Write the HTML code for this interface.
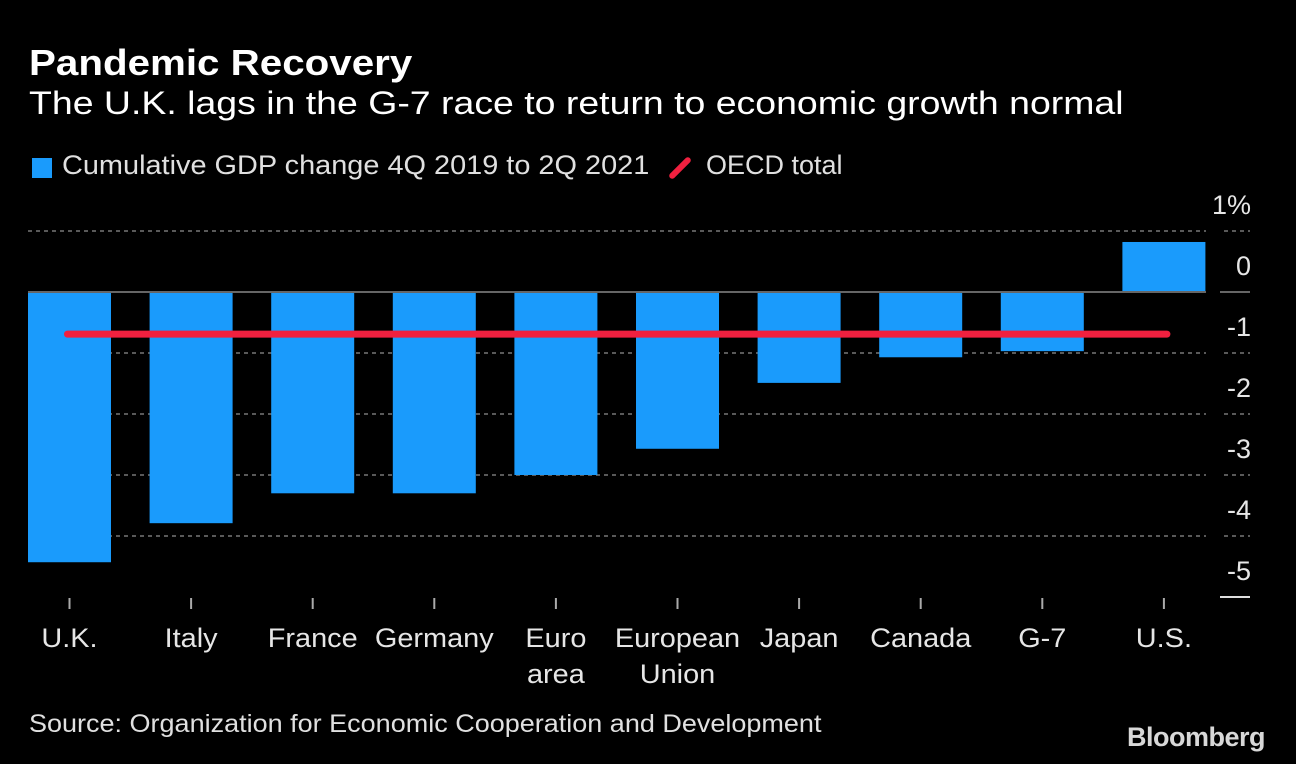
<!DOCTYPE html>
<html><head><meta charset="utf-8"><style>
html,body{margin:0;padding:0;background:#000;}
body{width:1296px;height:764px;overflow:hidden;position:relative;font-family:"Liberation Sans","DejaVu Sans",sans-serif;color:#e6e6e6;}
.t{position:absolute;white-space:nowrap;transform-origin:0 0;}
</style></head><body>
<div class="t" style="left:29px;top:42px;font-size:36px;font-weight:bold;color:#fff;transform:scaleX(1.12);">Pandemic Recovery</div>
<div class="t" style="left:29px;top:85px;font-size:32px;color:#fff;transform:scaleX(1.17);">The U.K. lags in the G-7 race to return to economic growth normal</div>
<div style="position:absolute;left:32px;top:150px;height:34px;">
  <div style="position:absolute;left:0;top:8px;width:20px;height:20px;background:#1a9bfc;"></div>
  <div class="t" style="left:30px;top:0;font-size:27px;color:#e0e0e0;transform:scaleX(1.07);">Cumulative GDP change 4Q 2019 to 2Q 2021</div>
  <div style="position:absolute;left:645px;top:4px;width:6px;height:28px;background:#f0203f;transform:rotate(45deg);border-radius:3px;"></div>
  <div class="t" style="left:674px;top:0;font-size:27px;color:#e0e0e0;">OECD total</div>
</div>
<svg id="chart" width="1296" height="764" style="position:absolute;left:0;top:0;" xmlns="http://www.w3.org/2000/svg"></svg>
<div class="t" style="left:29px;top:710px;font-size:25px;color:#e0e0e0;transform:scaleX(1.08);">Source: Organization for Economic Cooperation and Development</div>
<div class="t" style="left:1127px;top:722px;font-size:27px;font-weight:bold;color:#d8d8d8;letter-spacing:-0.5px;">Bloomberg</div>
<script>
const categories=[["U.K."],["Italy"],["France"],["Germany"],["Euro","area"],["European","Union"],["Japan"],["Canada"],["G-7"],["U.S."]];
const values=[-4.43,-3.79,-3.3,-3.3,-3.0,-2.57,-1.49,-1.07,-0.97,0.82];
const oecdTotal=-0.69;
const yTicks=[1,0,-1,-2,-3,-4,-5];
const yTickLabels=["1%","0","-1","-2","-3","-4","-5"];
const NS="http://www.w3.org/2000/svg";
const svg=document.getElementById('chart');
const y=v=>292-v*61;
const x0=28,step=121.6,bw=83;
const xc=i=>x0+bw/2+i*step;
function mk(t,a){const e=document.createElementNS(NS,t);for(const k in a)e.setAttribute(k,a[k]);svg.appendChild(e);return e;}
yTicks.forEach((v,i)=>{
  if(v!==0&&v!==-5){
    const g=mk('line',{x1:28,x2:1206,y1:y(v),y2:y(v),stroke:'#777','stroke-width':1.5,'stroke-dasharray':'4 4'});
    
    
    const g2=mk('line',{x1:1224,x2:1250,y1:y(v),y2:y(v),stroke:'#777','stroke-width':1.5,'stroke-dasharray':'4 4'});
    
    
  }
  const t=mk('text',{x:1251,y:y(v)-17,'text-anchor':'end','font-size':27,fill:'#e6e6e6','font-family':'Liberation Sans, sans-serif'});
  t.textContent=yTickLabels[i];
  
  
});
const bl=mk('line',{x1:1220,x2:1250,y1:y(-5),y2:y(-5),stroke:'#ddd','stroke-width':2});


values.forEach((v,i)=>{
  const top=Math.min(y(v),y(0)),h=Math.abs(y(v)-y(0));
  const r=mk('rect',{x:xc(i)-bw/2,y:top,width:bw,height:h,fill:'#1a9bfc'});
  
  
  const tk=mk('line',{x1:xc(i),x2:xc(i),y1:598,y2:609,stroke:'#aaa','stroke-width':2});
  
  
  categories[i].forEach((s,j)=>{
    const t=mk('text',{x:xc(i),y:647+j*36,'text-anchor':'middle','font-size':27,fill:'#e6e6e6','font-family':'Liberation Sans, sans-serif',transform:'translate('+xc(i)+',0) scale(1.07,1) translate('+(-xc(i))+',0)'});
    t.textContent=s;
    
    
  });
});
const z=mk('line',{x1:28,x2:1206,y1:y(0),y2:y(0),stroke:'#666','stroke-width':2});


const z2=mk('line',{x1:1220,x2:1250,y1:y(0),y2:y(0),stroke:'#666','stroke-width':2});


const o=mk('line',{x1:xc(0)-2,x2:xc(9)+3,y1:y(oecdTotal),y2:y(oecdTotal),stroke:'#f0203f','stroke-width':7,'stroke-linecap':'round'});


</script>
</body></html>
